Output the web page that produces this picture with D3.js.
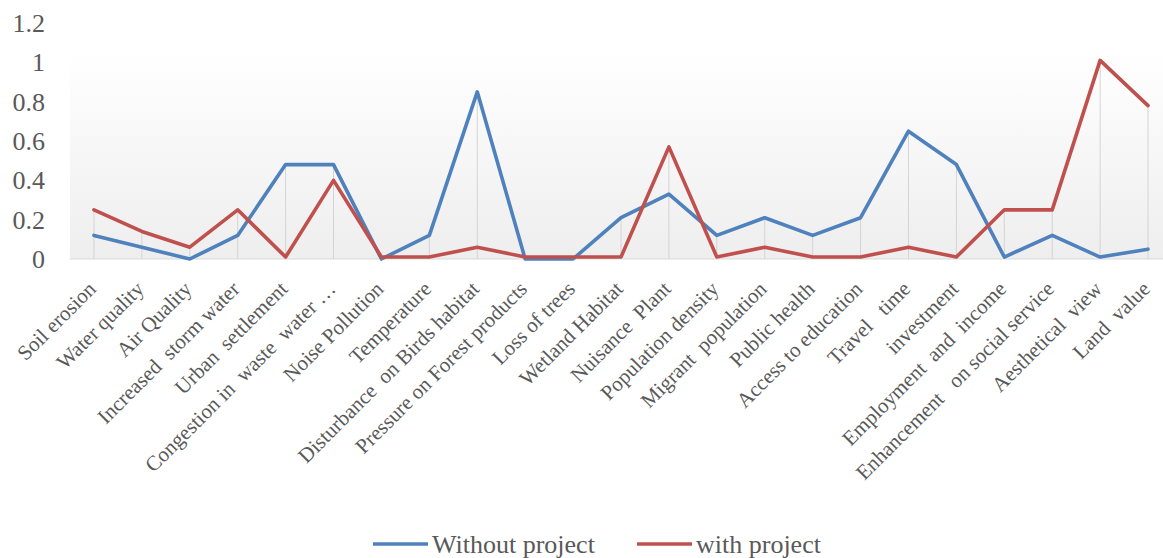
<!DOCTYPE html>
<html>
<head>
<meta charset="utf-8">
<script src="https://cdn.jsdelivr.net/npm/d3@7"></script>
<style>
  html, body { margin: 0; padding: 0; background: #fff; }
  svg { display: block; }
  text { font-family: "Liberation Serif", "Times New Roman", serif; fill: #595959; }
  .cat { white-space: pre; }
</style>
</head>
<body>
<svg id="chart" width="1163" height="558"></svg>
<script>
const categories = [
  "Soil erosion", "Water quality", "Air Quality", "Increased  storm water",
  "Urban  settlement", "Congestion in  waste  water \u2026", "Noise Pollution",
  "Temperature", "Disturbance  on Birds habitat", "Pressure on Forest products",
  "Loss of trees", "Wetland Habitat", "Nuisance  Plant", "Population density",
  "Migrant  population", "Public health", "Access to education", "Travel   time",
  "investment", "Employment  and  income", "Enhancement   on social service",
  "Aesthetical  view", "Land  value"
];
const withoutProject = [0.12, 0.06, 0, 0.12, 0.48, 0.48, 0, 0.12, 0.85, 0, 0, 0.21, 0.33, 0.12, 0.21, 0.12, 0.21, 0.65, 0.48, 0.01, 0.12, 0.01, 0.05];
const withProject    = [0.25, 0.14, 0.06, 0.25, 0.01, 0.40, 0.01, 0.01, 0.06, 0.01, 0.01, 0.01, 0.57, 0.01, 0.06, 0.01, 0.01, 0.06, 0.01, 0.25, 0.25, 1.01, 0.78];
const yTicks = [0, 0.2, 0.4, 0.6, 0.8, 1, 1.2];
const seriesNames = ["Without project", "with project"];
const seriesColors = ["#4F81BD", "#C0504D"];

const svg = d3.select("#chart");
const x = d3.scalePoint().domain(categories).range([70, 1172]).padding(0.5);
const y = d3.scaleLinear().domain([0, 1.2]).range([259, 23]);

// gradient plot background
const defs = svg.append("defs");
const grad = defs.append("linearGradient").attr("id", "bg").attr("x1", 0).attr("y1", 0).attr("x2", 0).attr("y2", 1);
grad.append("stop").attr("offset", "0%").attr("stop-color", "#ffffff");
grad.append("stop").attr("offset", "100%").attr("stop-color", "#eeeeee");
svg.append("rect").attr("x", 70).attr("y", 50).attr("width", 1163 - 70).attr("height", 259 - 50).attr("fill", "url(#bg)");

// drop lines
svg.append("g").selectAll("line").data(categories).join("line")
  .attr("x1", d => x(d)).attr("x2", d => x(d))
  .attr("y1", (d, i) => y(Math.max(withoutProject[i], withProject[i])))
  .attr("y2", y(0))
  .attr("stroke", "#d4d4d4").attr("stroke-width", 1);

// baseline
svg.append("line").attr("x1", 70).attr("x2", 1163).attr("y1", y(0)).attr("y2", y(0))
  .attr("stroke", "#d9d9d9").attr("stroke-width", 1);

// y labels
svg.append("g").selectAll("text").data(yTicks).join("text")
  .attr("x", 45).attr("y", d => y(d)).attr("dy", "0.35em")
  .attr("text-anchor", "end").style("font-size", "26px")
  .text(d => d3.format("~g")(d));

// category labels
svg.append("g").selectAll("text").data(categories).join("text")
  .attr("class", "cat")
  .attr("transform", d => `translate(${x(d) - 2},${285}) rotate(-45)`)
  .attr("text-anchor", "end").attr("dy", "0.35em")
  .style("font-size", "21px")
  .text(d => d);

// lines
const line = d3.line().x((d, i) => x(categories[i])).y(d => y(d));
[withoutProject, withProject].forEach((s, k) => {
  svg.append("path").datum(s).attr("d", line)
    .attr("fill", "none").attr("stroke", seriesColors[k])
    .attr("stroke-width", 3.6).attr("stroke-linejoin", "round").attr("stroke-linecap", "round");
});

// legend
const legendX = [373, 637];
seriesNames.forEach((n, k) => {
  const g = svg.append("g").attr("transform", `translate(${legendX[k]},544)`);
  g.append("line").attr("x1", 0).attr("x2", 55).attr("stroke", seriesColors[k]).attr("stroke-width", 3.6);
  g.append("text").attr("x", 59).attr("dy", "0.35em").style("font-size", "26px").text(n);
});
</script>
</body>
</html>
